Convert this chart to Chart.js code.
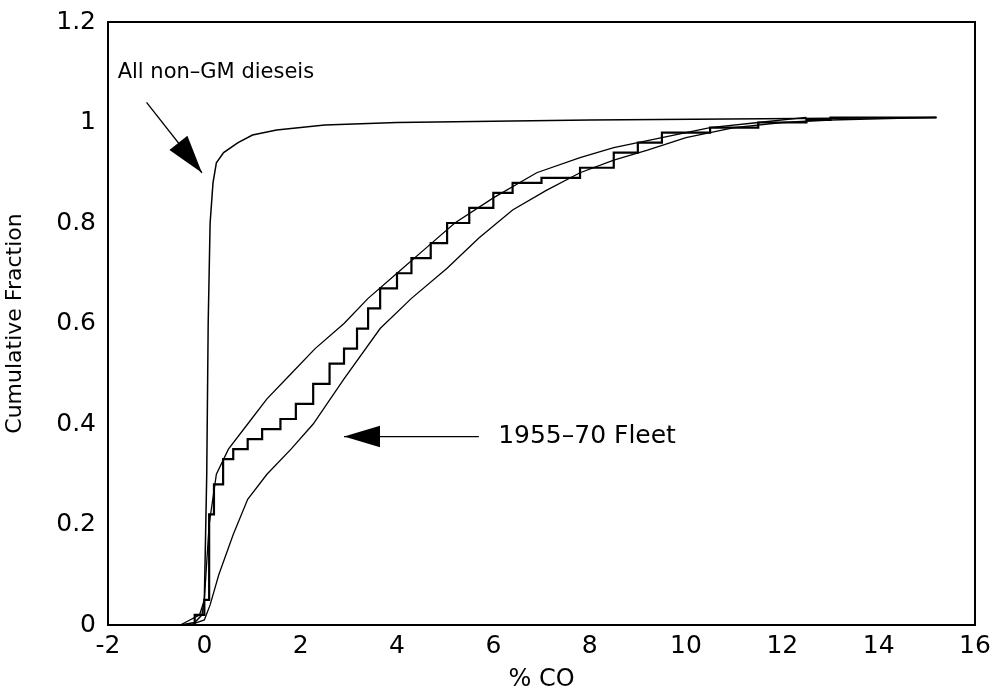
<!DOCTYPE html>
<html><head><meta charset="utf-8">
<script src="https://cdn.jsdelivr.net/npm/chart.js@4/dist/chart.umd.min.js"></script>
<style>html,body{margin:0;background:#fff}#wrap{width:1001px;height:694px}</style>
</head><body><div id="wrap"><canvas id="c"></canvas></div>
<script>
// values
const dieselX = [-0.5,-0.2,-0.05,0,0.05,0.08,0.12,0.18,0.25,0.4,0.7,1.0,1.5,2.5,4,8,15.2];
const dieselY = [0,0.005,0.02,0.05,0.3,0.6,0.8,0.88,0.92,0.94,0.96,0.975,0.985,0.995,1.0,1.005,1.01];
const upperX = [-0.5,-0.3,-0.1,0,0.1,0.25,0.5,0.9,1.3,1.8,2.3,2.9,3.4,4.0,4.6,5.2,6.0,6.9,7.8,8.5,9.5,10.5,11.5,12.5];
const upperY = [0,0.01,0.02,0.05,0.2,0.3,0.35,0.4,0.45,0.5,0.55,0.6,0.65,0.7,0.75,0.8,0.85,0.9,0.93,0.95,0.97,0.99,1.0,1.01];
const stepX = [-0.5,-0.2,0,0.1,0.2,0.39,0.6,0.9,1.2,1.58,1.9,2.26,2.6,2.9,3.17,3.4,3.65,4.0,4.3,4.7,5.04,5.5,6.0,6.4,7.0,7.8,8.5,9.0,9.5,10.5,11.5,12.5,13.0,15.2];
const stepY = [0,0.02,0.05,0.22,0.28,0.33,0.35,0.37,0.39,0.41,0.44,0.48,0.52,0.55,0.59,0.63,0.67,0.7,0.73,0.76,0.8,0.83,0.86,0.88,0.89,0.91,0.94,0.96,0.98,0.99,1.0,1.005,1.01,1.01];
const lowerX = [-0.3,0,0.12,0.3,0.6,0.9,1.3,1.8,2.26,2.9,3.65,4.3,5.04,5.7,6.4,7.1,7.8,8.5,9.2,10,11,12,13,15.2];
const lowerY = [0,0.01,0.04,0.1,0.18,0.25,0.3,0.35,0.4,0.49,0.59,0.65,0.71,0.77,0.826,0.865,0.9,0.925,0.945,0.97,0.99,1.0,1.005,1.01];
const xTicks = [-2,0,2,4,6,8,10,12,14,16];
const yTicks = [0,0.2,0.4,0.6,0.8,1,1.2];

const pts = (xs, ys) => xs.map((x,i)=>({x, y: ys[i]}));
const FONT = "'DejaVu Sans', sans-serif";

// arrows + labels drawn in data coordinates
const notes = {
  id: "notes",
  afterDatasetsDraw(chart){
    const {ctx, scales:{x, y}} = chart;
    const arrow = (x0,y0,x1,y1,head)=>{
      const a = Math.atan2(y1-y0, x1-x0);
      ctx.beginPath(); ctx.moveTo(x0,y0); ctx.lineTo(x1,y1); ctx.stroke();
      ctx.beginPath(); ctx.moveTo(x1,y1);
      ctx.lineTo(x1-head*Math.cos(a)+head*0.3*Math.sin(a), y1-head*Math.sin(a)-head*0.3*Math.cos(a));
      ctx.lineTo(x1-head*Math.cos(a)-head*0.3*Math.sin(a), y1-head*Math.sin(a)+head*0.3*Math.cos(a));
      ctx.closePath(); ctx.fill();
    };
    ctx.save();
    ctx.strokeStyle = "#000"; ctx.fillStyle = "#000"; ctx.lineWidth = 1.3;
    ctx.font = "21px " + FONT; ctx.textBaseline = "middle";
    ctx.fillText("All non\u2013GM dieseis", x.getPixelForValue(-1.8), y.getPixelForValue(1.1));
    arrow(x.getPixelForValue(-1.2), y.getPixelForValue(1.04), x.getPixelForValue(-0.05), y.getPixelForValue(0.9), 38);
    ctx.font = "25px " + FONT;
    ctx.fillText("1955\u201370 Fleet", x.getPixelForValue(6.1), y.getPixelForValue(0.375));
    arrow(x.getPixelForValue(5.7), y.getPixelForValue(0.375), x.getPixelForValue(2.9), y.getPixelForValue(0.375), 36);
    ctx.restore();
  }
};

const line = (data, w, step) => ({data, borderColor:"#000", borderWidth:w, pointRadius:0, fill:false, tension:0, stepped: step ? "before" : false});

new Chart(document.getElementById("c"), {
  type: "scatter",
  data: { datasets: [
    line(pts(dieselX, dieselY), 1.5),
    line(pts(upperX, upperY), 1.3),
    line(pts(stepX, stepY), 2.2, true),
    line(pts(lowerX, lowerY), 1.3)
  ]},
  options: {
    responsive: true, maintainAspectRatio: false, animation: false,
    showLine: true,
    layout: { padding: { left: 0, top: 22, right: 26, bottom: 0 } },
    plugins: { legend: {display:false}, tooltip: {enabled:false} },
    scales: {
      x: {
        type: "linear", min: -2, max: 16,
        afterBuildTicks: s => { s.ticks = xTicks.map(v=>({value:v})); },
        afterFit: s => { s.height = 69; },
        grid: { display:false, drawTicks:true, tickLength:6, tickColor:"#000" },
        border: { color:"#000", width:2 },
        ticks: { color:"#000", font:{family:FONT, size:25}, padding:0, maxRotation:0 },
        title: { display:true, text:"% CO", color:"#000", font:{family:FONT, size:24}, padding:0 }
      },
      y: {
        min: 0, max: 1.2,
        afterBuildTicks: s => { s.ticks = yTicks.map(v=>({value:v})); },
        afterFit: s => { s.width = 108; },
        grid: { display:false, drawTicks:true, tickLength:6, tickColor:"#000" },
        border: { color:"#000", width:2 },
        ticks: { color:"#000", font:{family:FONT, size:25}, padding:6, callback: v => String(+v.toFixed(1)) },
        title: { display:true, text:"Cumulative Fraction", color:"#000", font:{family:FONT, size:22}, padding:2 }
      },
      x2: { position:"top", type:"linear", min:-2, max:16, grid:{display:false, drawTicks:false}, ticks:{display:false}, border:{color:"#000", width:2}, afterFit: s => { s.height = 0; } },
      y2: { position:"right", min:0, max:1.2, grid:{display:false, drawTicks:false}, ticks:{display:false}, border:{color:"#000", width:2}, afterFit: s => { s.width = 0; } }
    }
  },
  plugins: [notes]
});
</script></body></html>
